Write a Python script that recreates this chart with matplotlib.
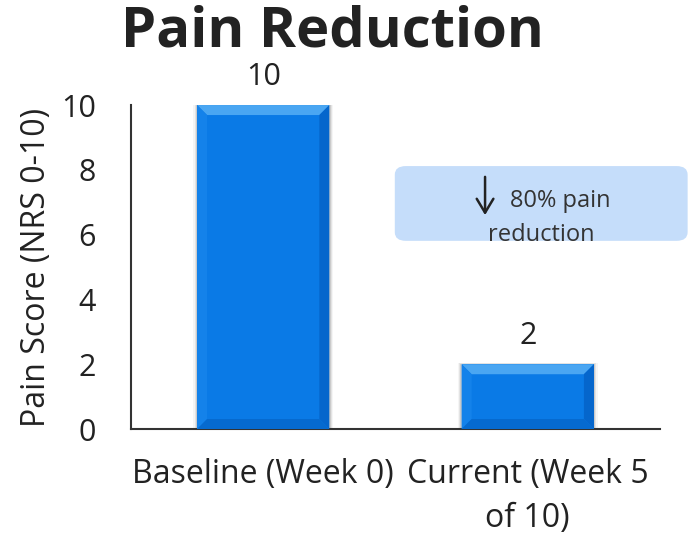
import numpy as np
import matplotlib.pyplot as plt
from matplotlib.patches import FancyBboxPatch, FancyArrowPatch, Polygon, Rectangle

categories = ["Baseline (Week 0)", "Current (Week 5\nof 10)"]
scores = [10, 2]
note_lines = ["80% pain", "reduction"]

plt.rcParams['font.family'] = ['Open Sans', 'DejaVu Sans']

fig = plt.figure(figsize=(6.89, 5.34), dpi=100)
ax = fig.add_axes([0.190, 0.1966, 0.768, 0.6067])

x = np.arange(len(categories))
width = 0.5
bars = ax.bar(x, scores, width=width, color="#0a7ae6", zorder=3)

ax.set_xlim(-0.5, 1.5)
ax.set_ylim(0, 10)

# bevel size in data units (about 10 px)
bx = 10 / (ax.get_position().width * fig.get_figwidth() * fig.dpi) * 2.0
by = 10 / (ax.get_position().height * fig.get_figheight() * fig.dpi) * 10.0

for b in bars:
    x0, y0 = b.get_x(), b.get_y()
    x1, y1 = x0 + b.get_width(), y0 + b.get_height()
    # soft shadow
    for k, a in enumerate([0.10, 0.07, 0.04]):
        d = bx * 0.12 * (k + 1)
        ax.add_patch(Rectangle((x0 - d, y0), (x1 - x0) + 2 * d, (y1 - y0) + by * 0.05 * (k + 1),
                               color="black", alpha=a, lw=0, zorder=2))
    top = [(x0, y1), (x1, y1), (x1 - bx, y1 - by), (x0 + bx, y1 - by)]
    left = [(x0, y0), (x0, y1), (x0 + bx, y1 - by), (x0 + bx, y0 + by)]
    right = [(x1, y0), (x1, y1), (x1 - bx, y1 - by), (x1 - bx, y0 + by)]
    bottom = [(x0, y0), (x1, y0), (x1 - bx, y0 + by), (x0 + bx, y0 + by)]
    ax.add_patch(Polygon(top, closed=True, color="#4aa6f2", lw=0, zorder=4))
    ax.add_patch(Polygon(left, closed=True, color="#1482ea", lw=0, zorder=4))
    ax.add_patch(Polygon(right, closed=True, color="#0566cc", lw=0, zorder=4))
    ax.add_patch(Polygon(bottom, closed=True, color="#066acf", lw=0, zorder=4))
    ax.annotate(f"{int(b.get_height())}", (b.get_x() + b.get_width() / 2, y1),
                xytext=(0, 9.5), textcoords="offset points", ha="center", va="bottom",
                fontsize=22, color="#222222", annotation_clip=False)

ax.set_xticks(x)
ax.set_xticklabels(categories, fontsize=23, color="#222222", linespacing=1.45)
ax.set_yticks([0, 2, 4, 6, 8, 10])
ax.tick_params(axis="y", length=0, pad=25, labelsize=22, labelcolor="#222222")
ax.tick_params(axis="x", length=0, pad=21)
ax.set_ylabel("Pain Score (NRS 0-10)", fontsize=23, color="#222222", labelpad=6)

for s in ["top", "right"]:
    ax.spines[s].set_visible(False)
for s in ["left", "bottom"]:
    ax.spines[s].set_color("#333333")
    ax.spines[s].set_linewidth(1.5)

# annotation box
box = FancyBboxPatch((0.573, 0.549), 0.425, 0.140, transform=fig.transFigure,
                     boxstyle="round,pad=0,rounding_size=0.016", facecolor="#c5ddfa",
                     edgecolor="none", zorder=5)
fig.patches.append(box)
arrow = FancyArrowPatch((0.704, 0.674), (0.704, 0.592), transform=fig.transFigure,
                        arrowstyle="->,head_length=0.5,head_width=0.3", color="#222222",
                        lw=1.8, mutation_scale=20, zorder=6)
fig.patches.append(arrow)
fig.text(0.740, 0.624, note_lines[0], fontsize=17, color="#333333", ha="left", va="center",
         zorder=6)
fig.text(0.785, 0.560, note_lines[1], fontsize=17, color="#333333", ha="center", va="center",
         zorder=6)

fig.text(0.483, 0.94, "Pain Reduction", fontsize=40.5, fontweight="bold",
         color="#222222", ha="center", va="center")

fig.savefig("out.png", dpi=100)
